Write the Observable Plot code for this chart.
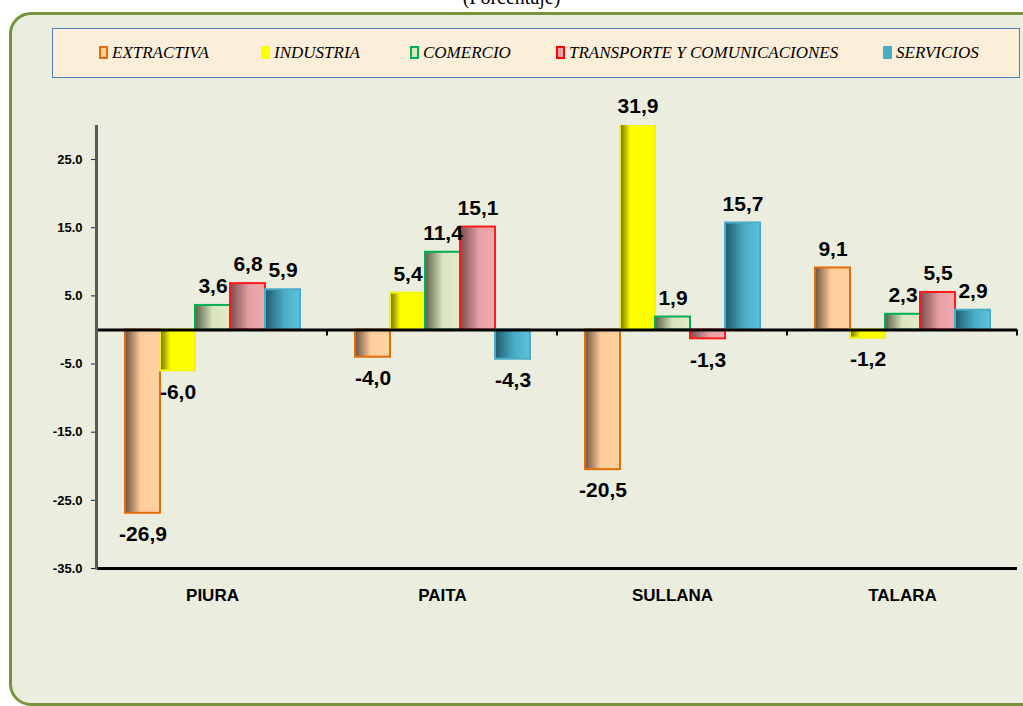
<!DOCTYPE html>
<html><head><meta charset="utf-8">
<script src="https://cdn.jsdelivr.net/npm/d3@7"></script>
<script src="https://cdn.jsdelivr.net/npm/@observablehq/plot@0.6"></script>
<style>
body{margin:0;width:1023px;height:706px;overflow:hidden;background:#fff;position:relative;font-family:"Liberation Sans",Arial,sans-serif;}
#title{position:absolute;left:0;width:1023px;top:-13px;text-align:center;font:20px "Liberation Serif",serif;color:#000;line-height:20px;}
#frame{position:absolute;left:9px;top:12px;width:1040px;height:694px;box-sizing:border-box;border:3px solid #77933C;border-radius:22px;background:#EBEEDF;}
#legend{position:absolute;left:52px;top:28px;width:968px;height:50px;box-sizing:border-box;border:1.5px solid #4F81BD;background:#FCEFD9;}
.item{position:absolute;top:0;height:47px;display:flex;align-items:center;font:italic 17px "Liberation Serif",serif;color:#000;white-space:nowrap;}
.sw{width:5px;height:9px;border:2px solid;margin-right:4px;}
#chart{position:absolute;left:0;top:90px;}
#chart svg g[aria-label="y-axis tick label"] text{font-weight:bold !important;font-size:13px !important;}
</style></head>
<body>
<div id="title">(Porcentaje)</div>
<div id="frame"></div>
<div id="legend"></div>
<div id="chart"></div>
<script>
const categories = ["PIURA", "PAITA", "SULLANA", "TALARA"];
const series = ["EXTRACTIVA", "INDUSTRIA", "COMERCIO", "TRANSPORTE Y COMUNICACIONES", "SERVICIOS"];
const extractiva = [-26.9, -4.0, -20.5, 9.1];
const industria = [-6.0, 5.4, 31.9, -1.2];
const comercio = [3.6, 11.4, 1.9, 2.3];
const transporte = [6.8, 15.1, -1.3, 5.5];
const servicios = [5.9, -4.3, 15.7, 2.9];
const yTicks = [-35, -25, -15, -5, 5, 15, 25];
const yDomain = [-35, 30];

const strokes = ["#E46C0A", "#F5F500", "#00B050", "#FF1A1A", "#4BACC6"];
const swatchFill = ["#FFCC99", "#FFFF00", "#D7E4BD", "#E6A1A4", "#4BACC6"];
const swatchBorder = ["#E46C0A", "#FFFF00", "#00B050", "#FF0000", "#4BACC6"];
const gradients = [
  [[0, "#6A5240"], [0.45, "#FFCC99"], [1, "#FFD2A2"]],
  [[0, "#6B6B00"], [0.3, "#FFFF00"], [1, "#FFFF00"]],
  [[0, "#595F47"], [0.5, "#D7E4BD"], [1, "#E2EDC8"]],
  [[0, "#7A4C50"], [0.55, "#E6A1A4"], [1, "#F0A9AC"]],
  [[0, "#1F5A6B"], [0.55, "#4BACC6"], [1, "#5BC2DE"]]
];
const legendX = [46, 208, 357, 503, 830];

const valuesBySeries = [extractiva, industria, comercio, transporte, servicios];
const rows = [];
series.forEach((s, i) => categories.forEach((c, j) => rows.push({cat: c, series: s, value: valuesBySeries[i][j]})));
const fmt = v => v.toFixed(1).replace(".", ",");
const yTop = yDomain[1];

// legend
const legend = document.getElementById("legend");
series.forEach((s, i) => {
  const it = document.createElement("div");
  it.className = "item";
  it.style.left = legendX[i] + "px";
  const sw = document.createElement("span");
  sw.className = "sw";
  sw.style.background = swatchFill[i];
  sw.style.borderColor = swatchBorder[i];
  it.appendChild(sw);
  it.appendChild(document.createTextNode(s));
  legend.appendChild(it);
});

const marks = [];
series.forEach((s, i) => {
  marks.push(Plot.barY(rows.filter(d => d.series === s), {
    fx: "cat", x: "series", y: "value",
    fill: `url(#g${i})`, stroke: strokes[i], strokeWidth: 2, clip: true
  }));
});
marks.push(Plot.ruleY([0], {stroke: "#000", strokeWidth: 3}));
marks.push(Plot.ruleY([-35], {stroke: "#000", strokeWidth: 3}));
marks.push(Plot.text(rows.filter(d => d.value >= 0), {
  fx: "cat", x: "series", y: d => Math.min(d.value, yTop), text: d => fmt(d.value),
  dy: -19, fontSize: 21, fontWeight: "bold", fill: "#000"
}));
marks.push(Plot.text(rows.filter(d => d.value < 0), {
  fx: "cat", x: "series", y: "value", text: d => fmt(d.value),
  dy: 21, fontSize: 21, fontWeight: "bold", fill: "#000"
}));
marks.push(Plot.axisY({ticks: yTicks, tickFormat: d => d.toFixed(1), tickSize: 6, tickPadding: 9,
  fontSize: 13, fontWeight: "bold", label: null, stroke: "#222"}));
marks.push(Plot.axisFx({anchor: "bottom", tickSize: 0, tickPadding: 20, fontSize: 17, fontWeight: "bold", label: null}));

const plot = Plot.plot({
  width: 1023, height: 540,
  marginTop: 35, marginBottom: 62, marginLeft: 96, marginRight: 5,
  style: {background: "transparent", fontFamily: "'Liberation Sans', Arial, sans-serif", color: "#000"},
  fx: {domain: categories, padding: 0},
  x: {domain: series, paddingInner: 0, paddingOuter: 0.74, axis: null},
  y: {domain: yDomain},
  marks
});

const svg = d3.select(plot);
const defs = svg.insert("defs", ":first-child");
gradients.forEach((g, i) => {
  const lg = defs.append("linearGradient").attr("id", `g${i}`).attr("x1", 0).attr("x2", 1).attr("y1", 0).attr("y2", 0);
  g.forEach(([o, c]) => lg.append("stop").attr("offset", o).attr("stop-color", c));
});
const y = plot.scale("y");
const fx = plot.scale("fx");
svg.append("line").attr("x1", 96.5).attr("x2", 96.5)
  .attr("y1", y.apply(yDomain[1])).attr("y2", y.apply(yDomain[0]) + 1.5)
  .attr("stroke", "#595959").attr("stroke-width", 3);
categories.forEach(c => {
  const xb = fx.apply(c) + fx.bandwidth;
  svg.append("line").attr("x1", xb).attr("x2", xb)
    .attr("y1", y.apply(0)).attr("y2", y.apply(0) + 6)
    .attr("stroke", "#000").attr("stroke-width", 2);
});
document.getElementById("chart").appendChild(plot);
</script>
</body></html>
